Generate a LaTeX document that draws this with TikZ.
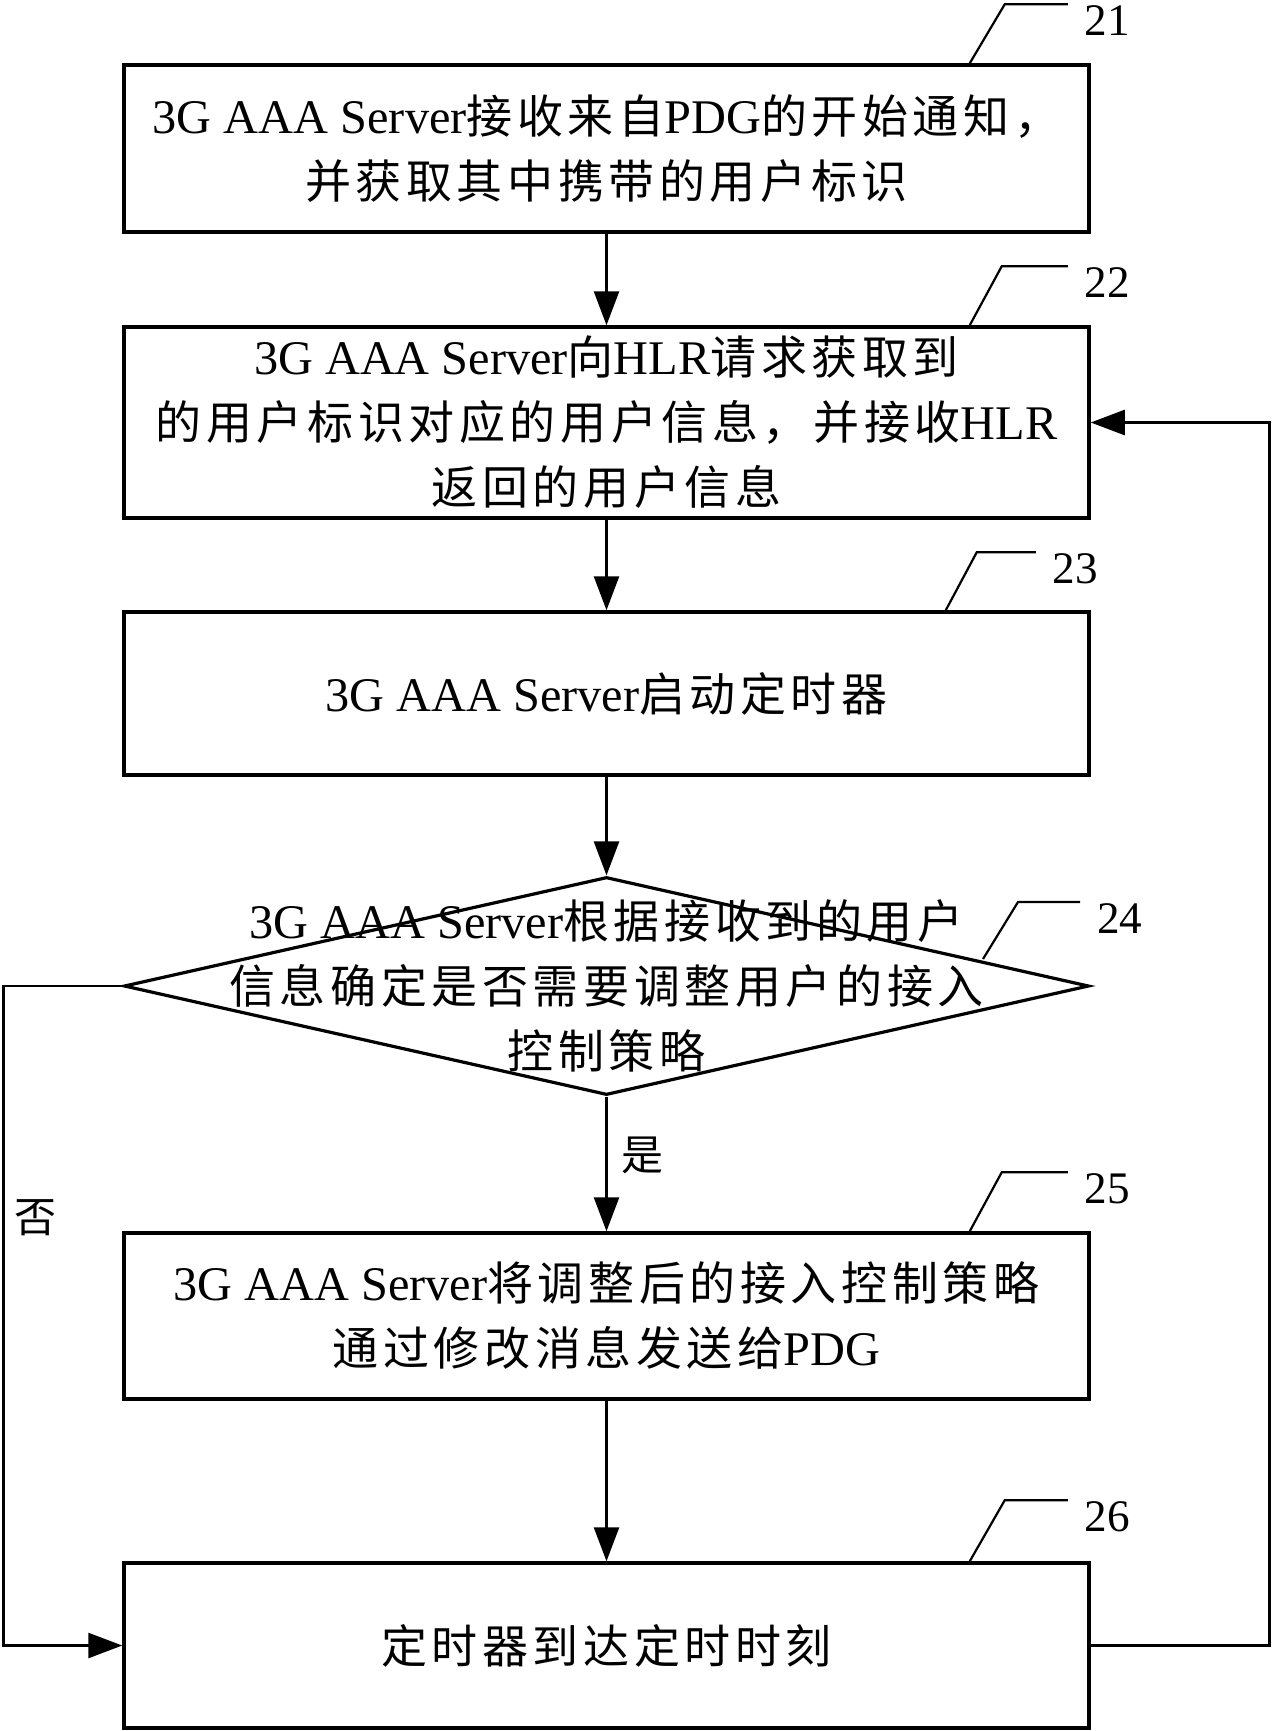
\documentclass[tikz,border=0pt]{standalone}
\usepackage{fontspec}
\setmainfont{Liberation Serif}[Scale=1.05]
\newfontfamily\cjk[LetterSpace=10]{Noto Sans CJK SC}
\usepackage{tikz}
\usetikzlibrary{calc, positioning, arrows.meta, shapes.geometric}
\tikzset{
    process/.style={rectangle, draw=black, line width=1.75pt, fill=white, align=center, minimum width=482.5pt, inner sep=0pt, font=\fontsize{23pt}{32.5pt}\selectfont},
    decision/.style={diamond, draw=black, line width=1.6pt, minimum width=482.5pt, minimum height=109pt, inner sep=0pt},
    txt/.style={align=center, inner sep=0pt, font=\fontsize{23pt}{32.5pt}\selectfont},
    arrow/.style={-{Triangle[length=17pt, width=12.5pt]}, line width=1.3pt},
    lead/.style={line width=1.1pt},
    tagnum/.style={anchor=north west, inner sep=0pt, xshift=8pt, font=\fontsize{21.5pt}{21.5pt}\selectfont},
    note/.style={inner sep=0pt, font=\fontsize{21pt}{21pt}\selectfont\cjk}
}

\begin{document}
\begin{tikzpicture}[x=0.5pt, y=-0.5pt]
        \useasboundingbox (0,0) rectangle (1274,1731);

        % Steps
        \node[process, minimum height=83.5pt] (s21) at (606.5,148.5) {3G AAA Server{\cjk 接收来自}PDG{\cjk 的开始通知，}\\{\cjk 并获取其中携带的用户标识}};
        \node[process, minimum height=95.5pt] (s22) at (606.5,422.5) {3G AAA Server{\cjk 向}HLR{\cjk 请求获取到}\\{\cjk 的用户标识对应的用户信息，并接收}HLR\\{\cjk 返回的用户信息}};
        \node[process, minimum height=81.5pt] (s23) at (606.5,693.5) {3G AAA Server{\cjk 启动定时器}};
        \node[decision] (s24) at (606.5,986) {};
        \node[txt] (q24) at (s24) {3G AAA Server{\cjk 根据接收到的用户}\\{\cjk 信息确定是否需要调整用户的接入}\\{\cjk 控制策略}};
        \node[process, minimum height=83pt] (s25) at (606.5,1316) {3G AAA Server{\cjk 将调整后的接入控制策略}\\{\cjk 通过修改消息发送给}PDG};
        \node[process, minimum height=82.5pt] (s26) at (606.5,1645.5) {{\cjk 定时器到达定时时刻}};

        % Flow
        \draw[arrow] (s21) -- (s22);
        \draw[arrow] (s22) -- (s23);
        \draw[arrow] (s23) -- (s24);
        \draw[arrow] (s24) -- (s25);
        \draw[arrow] (s25) -- (s26);
        \draw[arrow] (s24.west) -- ++(-119,0) |- (s26.west);
        \draw[arrow] (s26.east) -- ++(179,0) |- (s22.east);
        \node[note] (yes) at (642,1155) {是};
        \node[note] (no) at (36,1218) {否};

        % Step numbers
        \draw[lead] ($(s21.north east)+(-121,0)$) -- ++(35,-59) -- ++(63,0) node[tagnum] (n21) {21};
        \draw[lead] ($(s22.north east)+(-121,0)$) -- ++(32,-59) -- ++(66,0) node[tagnum] (n22) {22};
        \draw[lead] ($(s23.north east)+(-145,0)$) -- ++(31,-58) -- ++(59,0) node[tagnum] (n23) {23};
        \draw[lead] (983,959) -- ++(35,-57) -- ++(62,0) node[tagnum] (n24) {24};
        \draw[lead] ($(s25.north east)+(-121,0)$) -- ++(32,-59) -- ++(66,0) node[tagnum] (n25) {25};
        \draw[lead] ($(s26.north east)+(-121,0)$) -- ++(35,-61) -- ++(63,0) node[tagnum] (n26) {26};
    \end{tikzpicture}
\end{document}
